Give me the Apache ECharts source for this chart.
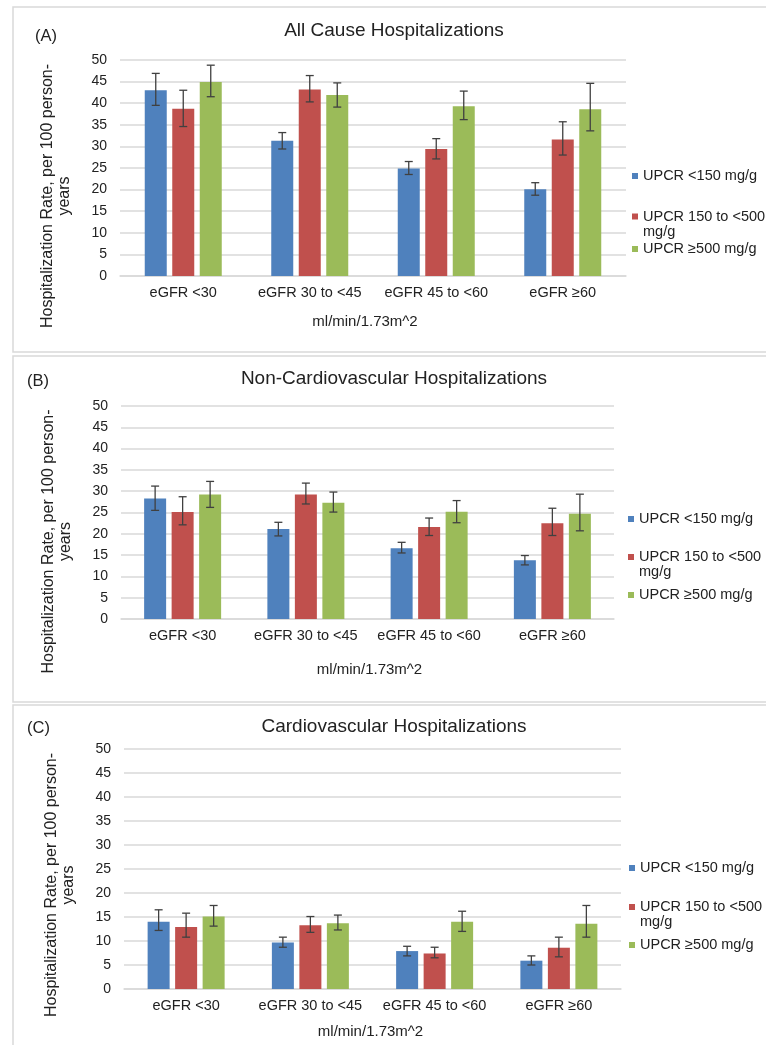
<!DOCTYPE html>
<html>
<head>
<meta charset="utf-8">
<script src="https://cdn.jsdelivr.net/npm/echarts@6/dist/echarts.min.js"></script>
<style>
  html, body { margin: 0; padding: 0; background: #fff; }
  #chart { width: 766px; height: 1045px; }
</style>
</head>
<body>
<div id="chart"></div>
<script>
// ====== categories / groups ======
const categories = ["eGFR <30", "eGFR 30 to <45", "eGFR 45 to <60", "eGFR ≥60"];
const upcrGroups = ["UPCR <150 mg/g", "UPCR 150 to <500 mg/g", "UPCR ≥500 mg/g"];
const yTicks = [0, 50, 5]; // min, max, step

// ====== (A) all cause, per UPCR group: rate and [low, high] ======
const allCauseRate = [
  [43.0, 31.3, 24.9, 20.1],
  [38.7, 43.2, 29.4, 31.6],
  [44.9, 41.9, 39.3, 38.6],
];
const allCauseCI = [
  [[39.5, 46.9], [29.4, 33.2], [23.5, 26.5], [18.7, 21.6]],
  [[34.6, 43.0], [40.3, 46.4], [27.1, 31.8], [28.0, 35.7]],
  [[41.5, 48.8], [39.1, 44.7], [36.2, 42.8], [33.6, 44.6]],
];

// ====== (B) non-cardiovascular ======
const nonCvRate = [
  [28.3, 21.1, 16.6, 13.8],
  [25.1, 29.2, 21.6, 22.5],
  [29.2, 27.3, 25.2, 24.7],
];
const nonCvCI = [
  [[25.5, 31.2], [19.5, 22.7], [15.5, 18.0], [12.7, 14.9]],
  [[22.1, 28.7], [27.0, 31.9], [19.6, 23.7], [19.6, 26.0]],
  [[26.2, 32.3], [25.1, 29.8], [22.6, 27.8], [20.7, 29.3]],
];

// ====== (C) cardiovascular ======
const cvRate = [
  [14.0, 9.7, 7.9, 5.9],
  [12.9, 13.3, 7.4, 8.6],
  [15.1, 13.7, 14.0, 13.6],
];
const cvCI = [
  [[12.2, 16.5], [8.7, 10.8], [6.9, 8.9], [5.0, 6.9]],
  [[10.8, 15.8], [11.8, 15.1], [6.5, 8.7], [6.7, 10.8]],
  [[13.1, 17.4], [12.3, 15.4], [12.0, 16.2], [10.8, 17.4]],
];

const panels = [
  { tag: "(A)", title: "All Cause Hospitalizations", rate: allCauseRate, ci: allCauseCI },
  { tag: "(B)", title: "Non-Cardiovascular Hospitalizations", rate: nonCvRate, ci: nonCvCI },
  { tag: "(C)", title: "Cardiovascular Hospitalizations", rate: cvRate, ci: cvCI },
];

// layout of each panel (pixels)
const frames = [
  { boxTop: 7, boxBottom: 352, grid: { left: 120, top: 60, width: 506, height: 216 },
    titleY: 31, tagLeft: 35, tagTop: 28, legendLeft: 632, legendY: [176, 216.5, 249],
    nameShift: 28, xNameGap: 38, xNameShift: -8 },
  { boxTop: 356, boxBottom: 702, grid: { left: 121, top: 406, width: 493, height: 213 },
    titleY: 379, tagLeft: 27, tagTop: 373, legendLeft: 628, legendY: [519, 557, 595],
    nameShift: 29, xNameGap: 43, xNameShift: 2 },
  { boxTop: 705, boxBottom: 1070, grid: { left: 124, top: 749, width: 497, height: 240 },
    titleY: 727, tagLeft: 27, tagTop: 720, legendLeft: 629, legendY: [868, 907, 945],
    nameShift: 16, xNameGap: 35, xNameShift: -2 },
];
const titleCenterX = 394;

const colors = ["#4F81BD", "#C0504D", "#9BBB59"];
const font = "'Liberation Sans', Arial, sans-serif";
const textColor = "#222";
const gridColor = "#d9d9d9";
const barWidth = 22;
const barGapPx = 5.5;
const legendLine = 15;

function errorBars(offset) {
  return function (params, api) {
    const x = api.value(0);
    const lo = api.coord([x, api.value(1)]);
    const hi = api.coord([x, api.value(2)]);
    const cx = lo[0] + offset;
    const cap = 4;
    const style = { stroke: "#404040", lineWidth: 1.3 };
    return {
      type: "group",
      children: [
        { type: "line", shape: { x1: cx, y1: hi[1], x2: cx, y2: lo[1] }, style },
        { type: "line", shape: { x1: cx - cap, y1: hi[1], x2: cx + cap, y2: hi[1] }, style },
        { type: "line", shape: { x1: cx - cap, y1: lo[1], x2: cx + cap, y2: lo[1] }, style },
      ],
    };
  };
}

const title = [];
const legend = [];
const xAxis = [];
const yAxis = [];
const series = [];
const graphic = [];

panels.forEach((p, i) => {
  const f = frames[i];

  graphic.push({
    type: "rect", silent: true, z: -10,
    shape: { x: 13, y: f.boxTop, width: 800, height: f.boxBottom - f.boxTop },
    style: { fill: "none", stroke: gridColor, lineWidth: 1.5 },
  });
  // panel heading, centred on a fixed x
  graphic.push({
    type: "text", silent: true, x: titleCenterX, y: f.titleY,
    style: {
      text: p.title, align: "center", verticalAlign: "middle",
      font: "19px " + font, fill: textColor,
    },
  });

  title.push({
    text: p.tag, left: f.tagLeft, top: f.tagTop, padding: 0,
    textStyle: { fontFamily: font, fontSize: 16.5, fontWeight: "normal", color: textColor },
  });

  upcrGroups.forEach((g, k) => {
    // the wrapped entry gets an empty first line so the icon sits on "UPCR 150 to <500"
    const twoLine = g.includes("<500");
    legend.push({
      orient: "vertical", left: f.legendLeft,
      top: twoLine ? f.legendY[k] - 1.5 * legendLine : f.legendY[k] - legendLine / 2,
      padding: 0, itemWidth: 6, itemHeight: 6, icon: "rect",
      selectedMode: false,
      formatter: (n) => (twoLine ? "\n" + n.replace("<500 mg/g", "<500\nmg/g") : n),
      data: [g],
      textStyle: { fontFamily: font, fontSize: 14.5, color: textColor, lineHeight: legendLine },
    });
  });

  xAxis.push({
    type: "category", gridIndex: i, data: categories,
    axisLine: { lineStyle: { color: gridColor, width: 1.5 } },
    axisTick: { show: false },
    axisLabel: { fontFamily: font, fontSize: 14.5, color: textColor, margin: 9, interval: 0 },
    name: "ml/min/1.73m^2", nameLocation: "middle", nameGap: f.xNameGap,
    nameTextStyle: {
      fontFamily: font, fontSize: 15, color: textColor,
      padding: f.xNameShift < 0 ? [0, -2 * f.xNameShift, 0, 0] : [0, 0, 0, 2 * f.xNameShift],
    },
  });

  yAxis.push({
    type: "value", gridIndex: i, min: yTicks[0], max: yTicks[1], interval: yTicks[2],
    axisLine: { show: false }, axisTick: { show: false },
    axisLabel: { fontFamily: font, fontSize: 14, color: textColor, margin: 13 },
    splitLine: { lineStyle: { color: gridColor, width: 1.5 } },
    name: "Hospitalization Rate, per 100 person-\nyears",
    nameLocation: "middle", nameRotate: 90, nameGap: 47,
    nameTextStyle: {
      fontFamily: font, fontSize: 16, color: textColor, lineHeight: 17,
      padding: [0, 2 * f.nameShift, 0, 0],
    },
  });

  upcrGroups.forEach((g, k) => {
    series.push({
      type: "bar", name: g, xAxisIndex: i, yAxisIndex: i,
      data: p.rate[k], barWidth, barGap: "25%",
      itemStyle: { color: colors[k] },
    });
  });
  upcrGroups.forEach((g, k) => {
    series.push({
      type: "custom", name: "err-" + i + "-" + k, xAxisIndex: i, yAxisIndex: i,
      renderItem: errorBars((k - 1) * (barWidth + barGapPx)),
      encode: { x: 0, y: [1, 2] },
      data: p.ci[k].map((c, j) => [j, c[0], c[1]]),
      z: 5, silent: true,
    });
  });
});

const option = {
  animation: false,
  textStyle: { fontFamily: font },
  title, legend, graphic,
  grid: frames.map((f) => f.grid),
  xAxis, yAxis, series,
};

const chart = echarts.init(document.getElementById("chart"));
chart.setOption(option);
</script>
</body>
</html>
